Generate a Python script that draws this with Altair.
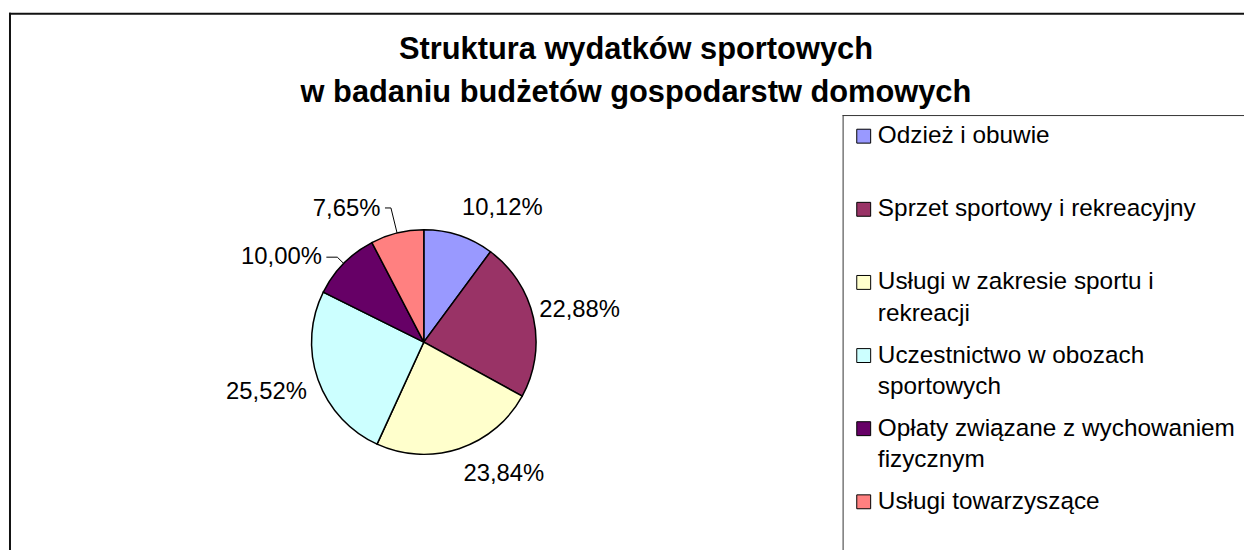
import altair as alt
import pandas as pd

# ---------------- data ----------------
categories = [
    "Odzież i obuwie",
    "Sprzet sportowy i rekreacyjny",
    "Usługi w zakresie sportu i rekreacji",
    "Uczestnictwo w obozach sportowych",
    "Opłaty związane z wychowaniem fizycznym",
    "Usługi towarzyszące",
]
shares = [10.12, 22.88, 23.84, 25.52, 10.00, 7.65]
share_labels = ["10,12%", "22,88%", "23,84%", "25,52%", "10,00%", "7,65%"]
colors = ["#9999FF", "#993366", "#FFFFCC", "#CCFFFF", "#660066", "#FF8080"]
legend_lines = [
    ["Odzież i obuwie"],
    ["Sprzet sportowy i rekreacyjny"],
    ["Usługi w zakresie sportu i", "rekreacji"],
    ["Uczestnictwo w obozach", "sportowych"],
    ["Opłaty związane z wychowaniem", "fizycznym"],
    ["Usługi towarzyszące"],
]
title_lines = ["Struktura wydatków sportowych", "w badaniu budżetów gospodarstw domowych"]

# ---------------- layout / style ----------------
FONT = "Liberation Sans"
W, H = 1244, 542
CX, CY, R = 418.5, 334.5, 113
total = round(sum(shares), 2)

# per label: radius, align, baseline, dx, dy
label_layout = [
    (129, "left", "bottom", -2, 0),
    (121, "left", "middle", -2, -6),
    (127, "left", "top", 0, 0),
    (128, "right", "top", 3, -4),
    (122, "right", "middle", -15.5, 0),
    (139, "right", "middle", -10.6, 1.5),
]
# leader lines: category index -> (elbow radius, horizontal length)
leaders = {4: (122, 11), 5: (139, 6)}

df = pd.DataFrame({
    "kategoria": categories,
    "udzial": shares,
    "etykieta": share_labels,
    "kolejnosc": list(range(len(categories))),
})

theta_scale = alt.Scale(domain=[0, total])

label_expr = "".join(
    "datum.label == '" + c + "' ? [" + ", ".join("'" + l + "'" for l in lines) + "] : "
    for c, lines in zip(categories, legend_lines)
) + "datum.label"

legend = alt.Legend(
    title=None, orient="none", legendX=849, legendY=115,
    symbolType="square", symbolSize=196, symbolStrokeColor="black", symbolStrokeWidth=1,
    labelFont=FONT, labelFontSize=24.5, labelColor="black", labelOffset=2, labelLimit=700,
    labelExpr=label_expr, labelBaseline="middle", gridAlign="all", rowPadding=16.6,
    padding=0, direction="vertical",
)

base = alt.Chart(df)

pie = base.mark_arc(outerRadius=R, stroke="black", strokeWidth=1.5).encode(
    x=alt.value(CX), y=alt.value(CY),
    theta=alt.Theta("udzial:Q", stack=True, scale=theta_scale),
    color=alt.Color("kategoria:N", scale=alt.Scale(domain=categories, range=colors),
                    sort=categories, legend=legend),
    order=alt.Order("kolejnosc:Q", sort="ascending"),
)

stacked = base.transform_window(
    cum="sum(udzial)", sort=[alt.SortField("kolejnosc")], frame=[None, 0]
).transform_calculate(
    mid="datum.cum - datum.udzial / 2",
).transform_calculate(
    ang=f"2 * PI * datum.mid / {total}",
)

label_layers = []
for i, (rad, align, baseline, dx, dy) in enumerate(label_layout):
    label_layers.append(
        stacked.transform_filter(alt.datum.kolejnosc == i).mark_text(
            radius=rad, align=align, baseline=baseline, dx=dx, dy=dy,
            font=FONT, fontSize=24, color="black",
        ).encode(
            x=alt.value(CX), y=alt.value(CY),
            theta=alt.Theta("mid:Q", stack=None, scale=theta_scale),
            text="etykieta:N",
        )
    )

leader_layers = []
for i, (re, ln) in leaders.items():
    ld = stacked.transform_filter(alt.datum.kolejnosc == i).transform_calculate(
        sx=f"{CX} + {R} * sin(datum.ang)",
        sy=f"{CY} - {R} * cos(datum.ang)",
        ex=f"{CX} + {re} * sin(datum.ang)",
        ey=f"{CY} - {re} * cos(datum.ang)",
    ).transform_calculate(hx=f"datum.ex - {ln}")
    leader_layers.append(ld.mark_rule(color="black", strokeWidth=1).encode(
        x=alt.X("sx:Q", scale=None, axis=None), y=alt.Y("sy:Q", scale=None, axis=None),
        x2="ex:Q", y2="ey:Q"))
    leader_layers.append(ld.mark_rule(color="black", strokeWidth=1).encode(
        x=alt.X("ex:Q", scale=None, axis=None), y=alt.Y("ey:Q", scale=None, axis=None),
        x2="hx:Q"))

one = alt.Chart(pd.DataFrame({"k": [0]}))
frame_top = one.mark_rule(color="#111111", strokeWidth=2).encode(
    x=alt.value(1), x2=alt.value(W + 20), y=alt.value(4))
frame_left = one.mark_rule(color="#111111", strokeWidth=2).encode(
    x=alt.value(2), y=alt.value(3), y2=alt.value(H + 20))
box_top = one.mark_rule(color="#333333", strokeWidth=1).encode(
    x=alt.value(840), x2=alt.value(W + 20), y=alt.value(106.5))
box_left = one.mark_rule(color="#333333", strokeWidth=1).encode(
    x=alt.value(840.5), y=alt.value(106), y2=alt.value(H + 20))

chart = alt.layer(
    frame_top, frame_left, box_top, box_left, pie, *leader_layers, *label_layers
).properties(
    width=W, height=H, padding=0,
    autosize=alt.AutoSizeParams(type="none"),
    background="white",
    title=alt.TitleParams(
        text=title_lines, font=FONT, fontSize=31, fontWeight="bold", color="black",
        anchor="middle", frame="group", offset=0, lineHeight=43, dx=10, dy=100,
    ),
).configure(
    style={"guide-label": {"lineHeight": 31.7}},
).configure_view(strokeWidth=0)

chart.save("out.html", embed_options={"renderer": "svg", "actions": False})
